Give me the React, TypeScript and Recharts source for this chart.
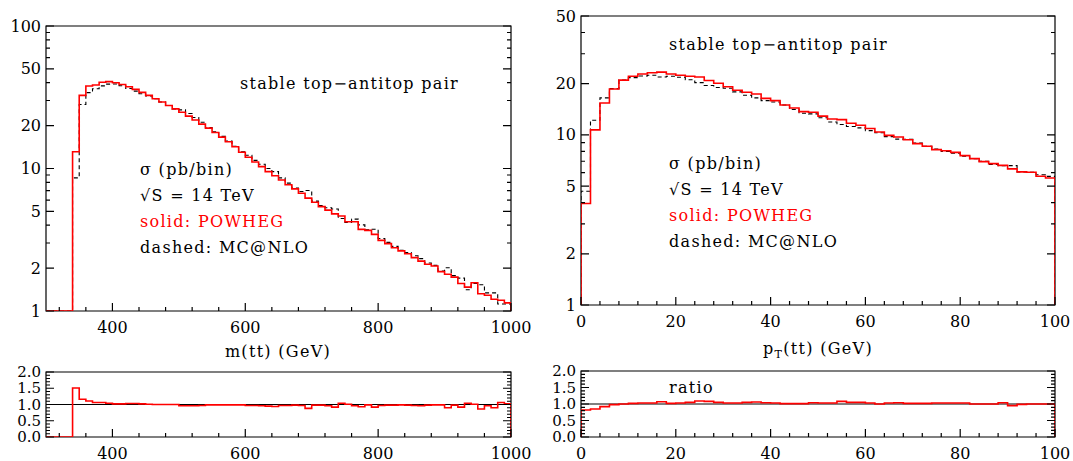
import React from "react";
import { LineChart, Line, XAxis, YAxis, ReferenceArea, ReferenceLine } from "recharts";

// m(tt) histogram: 10 GeV bins starting at 340 GeV (nothing below threshold)
const M_START = 340;
const M_WIDTH = 10;
const M_EMPTY = [300, 310, 320, 330];
const M_POWHEG = [
  13.1, 32.6, 37.9, 38.5, 40.3, 40.7, 40.0, 38.9, 37.5, 35.9,
  34.2, 32.6, 30.9, 29.3, 27.7, 26.2, 24.8, 23.3, 21.9, 20.5,
  19.2, 17.9, 16.6, 15.4, 14.2, 13.0, 12.0, 11.1, 10.3, 9.5,
  8.9, 8.3, 7.7, 7.2, 6.7, 6.2, 5.8, 5.4, 5.1, 4.8,
  4.64, 4.23, 4.23, 3.74, 3.68, 3.45, 3.13, 2.97, 2.78, 2.64,
  2.52, 2.37, 2.24, 2.13, 2.07, 1.89, 1.81, 1.73, 1.56, 1.47,
  1.58, 1.32, 1.29, 1.21, 1.19, 1.14,
];
const M_MCNLO = [
  8.6, 28.1, 34.1, 36.3, 38.0, 39.1, 39.2, 38.1, 36.4, 34.9,
  33.5, 32.3, 30.9, 29.3, 27.7, 26.2, 25.8, 24.3, 22.8, 21.1,
  19.4, 18.1, 16.8, 15.6, 14.3, 13.1, 12.4, 11.4, 10.7, 10.0,
  9.5, 8.6, 7.9, 7.3, 6.9, 7.0, 5.9, 5.5, 5.3, 5.2,
  4.46, 4.19, 4.41, 4.02, 3.72, 3.75, 3.23, 3.03, 2.84, 2.67,
  2.57, 2.44, 2.33, 2.17, 2.09, 1.91, 2.01, 1.77, 1.70, 1.41,
  1.56, 1.53, 1.34, 1.34, 1.12, 1.12,
];
const M_RATIO = [
  1.51, 1.16, 1.11, 1.06, 1.06, 1.04, 1.02, 1.02, 1.03, 1.03,
  1.02, 1.01, 1.0, 1.0, 1.0, 1.0, 0.96, 0.96, 0.96, 0.97,
  0.99, 0.99, 0.99, 0.99, 0.99, 0.99, 0.97, 0.97, 0.96, 0.95,
  0.94, 0.97, 0.97, 0.98, 0.97, 0.88, 0.98, 0.98, 0.96, 0.92,
  1.04, 1.01, 0.96, 0.93, 0.99, 0.92, 0.97, 0.98, 0.98, 0.99,
  0.98, 0.97, 0.96, 0.98, 0.99, 0.99, 0.90, 0.98, 0.92, 1.04,
  1.01, 0.86, 0.96, 0.90, 1.06, 1.02,
];

// pT(tt) histogram: 2 GeV bins from 0 to 100
const PT_START = 0;
const PT_WIDTH = 2;
const PT_POWHEG = [
  3.95, 10.7, 15.4, 18.6, 21.0, 22.1, 22.8, 23.2, 23.4, 22.8,
  22.4, 22.1, 21.9, 20.9, 20.1, 19.2, 18.3, 17.8, 17.4, 16.4,
  15.9, 15.0, 14.4, 13.7, 13.6, 12.9, 12.4, 12.3, 11.7, 11.4,
  10.9, 10.4, 9.94, 9.71, 9.37, 8.88, 8.57, 8.19, 8.07, 7.89,
  7.55, 7.25, 6.96, 6.78, 6.62, 6.31, 6.06, 6.03, 5.71, 5.58,
];
const PT_MCNLO = [
  4.66, 12.2, 16.5, 18.7, 21.0, 21.7, 22.2, 22.4, 21.9, 22.1,
  21.8, 21.1, 20.3, 19.5, 19.0, 18.8, 17.9, 17.1, 16.5, 15.9,
  15.6, 15.0, 14.1, 13.4, 13.3, 12.6, 11.9, 11.5, 11.2, 11.0,
  10.6, 10.3, 9.77, 9.45, 9.42, 8.95, 8.57, 8.26, 8.0, 7.8,
  7.5, 7.25, 7.0, 6.7, 6.6, 6.6, 6.06, 6.03, 5.83, 5.7,
];
const PT_RATIO = [
  0.82, 0.85, 0.92, 0.98, 1.0, 1.02, 1.03, 1.03, 1.07, 1.02,
  1.03, 1.05, 1.09, 1.08, 1.05, 1.03, 1.03, 1.05, 1.06, 1.04,
  1.03, 1.01, 1.01, 1.01, 1.04, 1.03, 1.03, 1.08, 1.05, 1.05,
  1.03, 1.0, 1.03, 1.04, 1.02, 1.02, 1.02, 1.03, 1.03, 1.03,
  1.03, 1.0, 1.0, 1.0, 1.04, 0.95, 0.99, 1.0, 1.0, 1.0,
];

const M_TICKS = [320, 360, 400, 440, 480, 520, 560, 600, 640, 680, 720, 760, 800, 840, 880, 920, 960, 1000];
const M_LABELS = [400, 600, 800, 1000];
const PT_TICKS = [0, 4, 8, 12, 16, 20, 24, 28, 32, 36, 40, 44, 48, 52, 56, 60, 64, 68, 72, 76, 80, 84, 88, 92, 96, 100];
const PT_LABELS = [0, 20, 40, 60, 80, 100];
const LOG_TICKS = [1, 2, 3, 4, 5, 6, 7, 8, 9, 10, 20, 30, 40, 50, 60, 70, 80, 90, 100];
const LOG_LABELS = [1, 2, 5, 10, 20, 50, 100];
const RATIO_TICKS = [0, 0.1, 0.2, 0.3, 0.4, 0.5, 0.6, 0.7, 0.8, 0.9, 1, 1.1, 1.2, 1.3, 1.4, 1.5, 1.6, 1.7, 1.8, 1.9, 2];
const RATIO_LABELS = [0, 0.5, 1, 1.5, 2];

const FONT = "DejaVu Serif";
const RED = "#ff0000";

type Box = { x0: number; x1: number; y0: number; y1: number };

// step-histogram rows: optional leading floor point, one row per bin, closing edge, drop to floor
function histRows(start: number, width: number, keys: Record<string, number[]>, floor: number, lead: boolean, empty: number[] = []) {
  const names = Object.keys(keys);
  const n = keys[names[0]].length;
  const rows: any[] = [];
  const flat = (x: number, v: number) => {
    const r: any = { x };
    names.forEach((k) => (r[k] = v));
    return r;
  };
  if (lead) rows.push(flat(start, floor));
  empty.forEach((x) => rows.push(flat(x, floor)));
  for (let i = 0; i < n; i++) {
    const r: any = { x: start + i * width };
    names.forEach((k) => (r[k] = keys[k][i]));
    rows.push(r);
  }
  const end = start + n * width;
  const last: any = { x: end };
  names.forEach((k) => (last[k] = keys[k][n - 1]));
  rows.push(last);
  rows.push(flat(end, floor));
  return rows;
}

const M_MAIN = histRows(M_START, M_WIDTH, { mcnlo: M_MCNLO, powheg: M_POWHEG }, 1, false, M_EMPTY);
const M_RAT = histRows(M_START, M_WIDTH, { powheg: M_RATIO }, 0, false, M_EMPTY);
const PT_MAIN = histRows(PT_START, PT_WIDTH, { mcnlo: PT_MCNLO, powheg: PT_POWHEG }, 1, true);
const PT_RAT = histRows(PT_START, PT_WIDTH, { powheg: PT_RATIO }, 0, true);

const near = (list: number[], v: number) => list.some((m) => Math.abs(m - v) < 1e-6);

const YW = 40;
const XH = 30;

function Panel(props: {
  box: Box;
  xDomain: [number, number];
  yDomain: [number, number];
  log?: boolean;
  xTicks: number[];
  xLabels: number[];
  yTicks: number[];
  yLabels: number[];
  yFmt: (v: number) => string;
  yFont: number;
  data: any[];
  dashed?: boolean;
  one?: boolean;
}) {
  const { box, xDomain, yDomain } = props;
  const ML = 50, MT = 8, MR = 30;
  const w = box.x1 - box.x0;
  const h = box.y1 - box.y0;

  // inward ticks on both sides, label only on the majors
  const yTick = (p: any) => {
    const v = p.payload.value;
    const major = near(props.yLabels, v);
    const len = major ? 8 : 4;
    const x = ML;
    const y = Number(p.y);
    return (
      <g>
        <path d={`M${x},${y}h${len}M${x + w},${y}h${-len}`} stroke="#000" strokeWidth={1.2} fill="none" />
        {major && (
          <text x={x - 5} y={y} textAnchor="end" dominantBaseline="central" fontFamily={FONT} fontSize={props.yFont} fill="#000">
            {props.yFmt(v)}
          </text>
        )}
      </g>
    );
  };
  const xTick = (p: any) => {
    const v = p.payload.value;
    const major = near(props.xLabels, v);
    const len = major ? 8 : 4;
    const y = MT + h;
    const x = Number(p.x);
    return (
      <g>
        <path d={`M${x},${y}v${-len}`} stroke="#000" strokeWidth={1.2} fill="none" />
        {major && (
          <text x={x} y={y + 16} textAnchor="middle" dominantBaseline="central" fontFamily={FONT} fontSize={16} fill="#000">
            {v}
          </text>
        )}
      </g>
    );
  };

  return (
    <div style={{ position: "absolute", left: box.x0 - ML, top: box.y0 - MT }}>
      <LineChart width={w + ML + MR} height={h + MT + XH} data={props.data} margin={{ top: MT, right: MR, bottom: 0, left: ML - YW }}>
        <XAxis
          dataKey="x"
          type="number"
          domain={xDomain}
          ticks={props.xTicks}
          interval={0}
          height={XH}
          axisLine={false}
          tickLine={false}
          tick={xTick}
          allowDataOverflow
        />
        <YAxis
          type="number"
          scale={props.log ? "log" : "linear"}
          domain={yDomain}
          ticks={props.yTicks}
          interval={0}
          width={YW}
          axisLine={false}
          tickLine={false}
          tick={yTick}
          allowDataOverflow
        />
        <ReferenceArea x1={xDomain[0]} x2={xDomain[1]} y1={yDomain[0]} y2={yDomain[1]} fill="none" fillOpacity={0} stroke="#000" strokeWidth={1.2} />
        {props.one && <ReferenceLine y={1} stroke="#000" strokeWidth={1} />}
        {props.dashed && (
          <Line type="stepAfter" dataKey="mcnlo" stroke="#000" strokeWidth={1.1} strokeDasharray="4 3" dot={false} isAnimationActive={false} />
        )}
        <Line type="stepAfter" dataKey="powheg" stroke={RED} strokeWidth={1.6} dot={false} isAnimationActive={false} />
      </LineChart>
    </div>
  );
}

const LM: Box = { x0: 46, x1: 511, y0: 26, y1: 311 };
const RM: Box = { x0: 581, x1: 1055, y0: 16, y1: 305 };
const LR: Box = { x0: 46, x1: 511, y0: 372, y1: 437 };
const RR: Box = { x0: 581, x1: 1055, y0: 371, y1: 437 };

const logFmt = (v: number) => String(v);
const ratioFmt = (v: number) => v.toFixed(1);

function Label({ x, y, children, color = "#000" }: { x: number; y: number; children: React.ReactNode; color?: string }) {
  return (
    <text x={x} y={y} fontFamily={FONT} fontSize={16} letterSpacing={1.3} fill={color}>
      {children}
    </text>
  );
}

export default function App() {
  return (
    <div style={{ position: "absolute", left: 0, top: 0, width: 1073, height: 461, background: "#fff" }}>
      <Panel box={LM} xDomain={[300, 1000]} yDomain={[1, 100]} log xTicks={M_TICKS} xLabels={M_LABELS}
        yTicks={LOG_TICKS} yLabels={LOG_LABELS} yFmt={logFmt} yFont={16} data={M_MAIN} dashed />
      <Panel box={RM} xDomain={[0, 100]} yDomain={[1, 50]} log xTicks={PT_TICKS} xLabels={PT_LABELS}
        yTicks={LOG_TICKS.filter((t) => t <= 50)} yLabels={LOG_LABELS} yFmt={logFmt} yFont={16} data={PT_MAIN} dashed />
      <Panel box={LR} xDomain={[300, 1000]} yDomain={[0, 2]} xTicks={M_TICKS} xLabels={M_LABELS}
        yTicks={RATIO_TICKS} yLabels={RATIO_LABELS} yFmt={ratioFmt} yFont={15} data={M_RAT} one />
      <Panel box={RR} xDomain={[0, 100]} yDomain={[0, 2]} xTicks={PT_TICKS} xLabels={PT_LABELS}
        yTicks={RATIO_TICKS} yLabels={RATIO_LABELS} yFmt={ratioFmt} yFont={15} data={PT_RAT} one />

      <svg width={1073} height={461} style={{ position: "absolute", left: 0, top: 0, pointerEvents: "none" }}>
        <Label x={240} y={89}>stable top−antitop pair</Label>
        <Label x={140} y={175}>σ (pb/bin)</Label>
        <Label x={140} y={201}>√S = 14 TeV</Label>
        <Label x={140} y={227} color={RED}>solid: POWHEG</Label>
        <Label x={140} y={253}>dashed: MC@NLO</Label>

        <Label x={669} y={50}>stable top−antitop pair</Label>
        <Label x={669} y={169}>σ (pb/bin)</Label>
        <Label x={669} y={195}>√S = 14 TeV</Label>
        <Label x={669} y={221} color={RED}>solid: POWHEG</Label>
        <Label x={669} y={247}>dashed: MC@NLO</Label>

        <Label x={669} y={393}>ratio</Label>

        <text x={278} y={357} textAnchor="middle" fontFamily={FONT} fontSize={16} letterSpacing={1.3}>m(tt) (GeV)</text>
        <text x={818} y={354} textAnchor="middle" fontFamily={FONT} fontSize={16} letterSpacing={1.3}>
          <tspan>p</tspan>
          <tspan dy={4} fontSize={11}>T</tspan>
          <tspan dy={-4}>(tt) (GeV)</tspan>
        </text>
      </svg>
    </div>
  );
}
